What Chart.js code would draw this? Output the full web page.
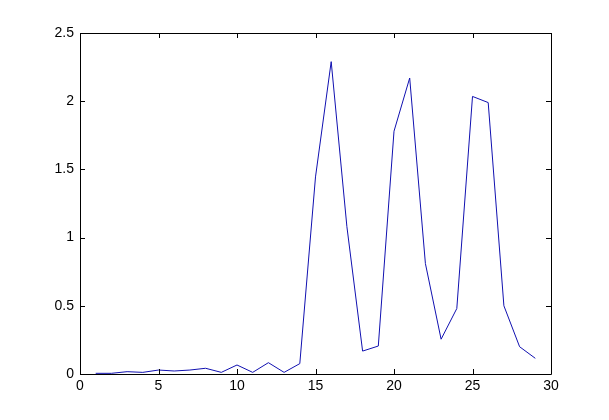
<!DOCTYPE html>
<html>
<head>
<meta charset="utf-8">
<script src="https://cdn.jsdelivr.net/npm/chart.js@4/dist/chart.umd.min.js"></script>
<style>
  html, body { margin: 0; padding: 0; background: #fff; }
  #wrap { width: 609px; height: 420px; }
</style>
</head>
<body>
<div id="wrap"><canvas id="plot" width="609" height="420"></canvas></div>
<script>
// values
const xValues = [1, 2, 3, 4, 5, 6, 7, 8, 9, 10, 11, 12, 13, 14, 15,
                 16, 17, 18, 19, 20, 21, 22, 23, 24, 25, 26, 27, 28, 29];
const yValues = [0.005, 0.005, 0.017, 0.012, 0.029, 0.022, 0.029, 0.042, 0.012, 0.066,
                 0.012, 0.083, 0.012, 0.076, 1.445, 2.29, 1.08, 0.168, 0.205, 1.78,
                 2.17, 0.81, 0.255, 0.48, 2.035, 1.99, 0.5, 0.2, 0.115];
const xTicks = [0, 5, 10, 15, 20, 25, 30];
const yTicks = [0, 0.5, 1, 1.5, 2, 2.5];

const points = xValues.map((x, i) => ({ x, y: yValues[i] }));

// matlab style box with inward ticks on all four sides
const boxTicks = {
  id: 'boxTicks',
  afterDraw(chart) {
    const { ctx, chartArea: a, scales } = chart;
    const len = 5;
    ctx.save();
    ctx.strokeStyle = '#000';
    ctx.lineWidth = 1;
    ctx.beginPath();
    ctx.rect(Math.round(a.left) + 0.5, Math.round(a.top) + 0.5,
             Math.round(a.right - a.left), Math.round(a.bottom - a.top));
    xTicks.forEach(v => {
      const px = Math.round(scales.x.getPixelForValue(v)) + 0.5;
      ctx.moveTo(px, a.bottom); ctx.lineTo(px, a.bottom - len);
      ctx.moveTo(px, a.top); ctx.lineTo(px, a.top + len);
    });
    yTicks.forEach(v => {
      const py = Math.round(scales.y.getPixelForValue(v)) + 0.5;
      ctx.moveTo(a.left, py); ctx.lineTo(a.left + len, py);
      ctx.moveTo(a.right, py); ctx.lineTo(a.right - len, py);
    });
    ctx.stroke();
    ctx.restore();
  }
};

const tickFont = { family: 'Liberation Sans, Arial, sans-serif', size: 14 };

new Chart(document.getElementById('plot'), {
  type: 'line',
  data: {
    datasets: [{
      data: points,
      borderColor: '#1010b0',
      borderWidth: 1,
      pointRadius: 0,
      tension: 0,
      fill: false
    }]
  },
  options: {
    responsive: false,
    animation: false,
    layout: { padding: { top: 33, right: 58, left: 0, bottom: 0 } },
    plugins: { legend: { display: false }, tooltip: { enabled: false } },
    scales: {
      x: {
        type: 'linear',
        min: 0, max: 30,
        afterBuildTicks: s => { s.ticks = xTicks.map(v => ({ value: v })); },
        afterFit: s => { s.height = 46; },
        grid: { display: false, drawTicks: false },
        border: { display: false },
        ticks: { color: '#000', font: tickFont, padding: 4, maxRotation: 0,
                 callback: v => String(v) }
      },
      y: {
        type: 'linear',
        min: 0, max: 2.5,
        afterBuildTicks: s => { s.ticks = yTicks.map(v => ({ value: v })); },
        afterFit: s => { s.width = 80; },
        grid: { display: false, drawTicks: false },
        border: { display: false },
        ticks: { color: '#000', font: tickFont, padding: 6,
                 callback: v => String(v) }
      }
    }
  },
  plugins: [boxTicks]
});
</script>
</body>
</html>
